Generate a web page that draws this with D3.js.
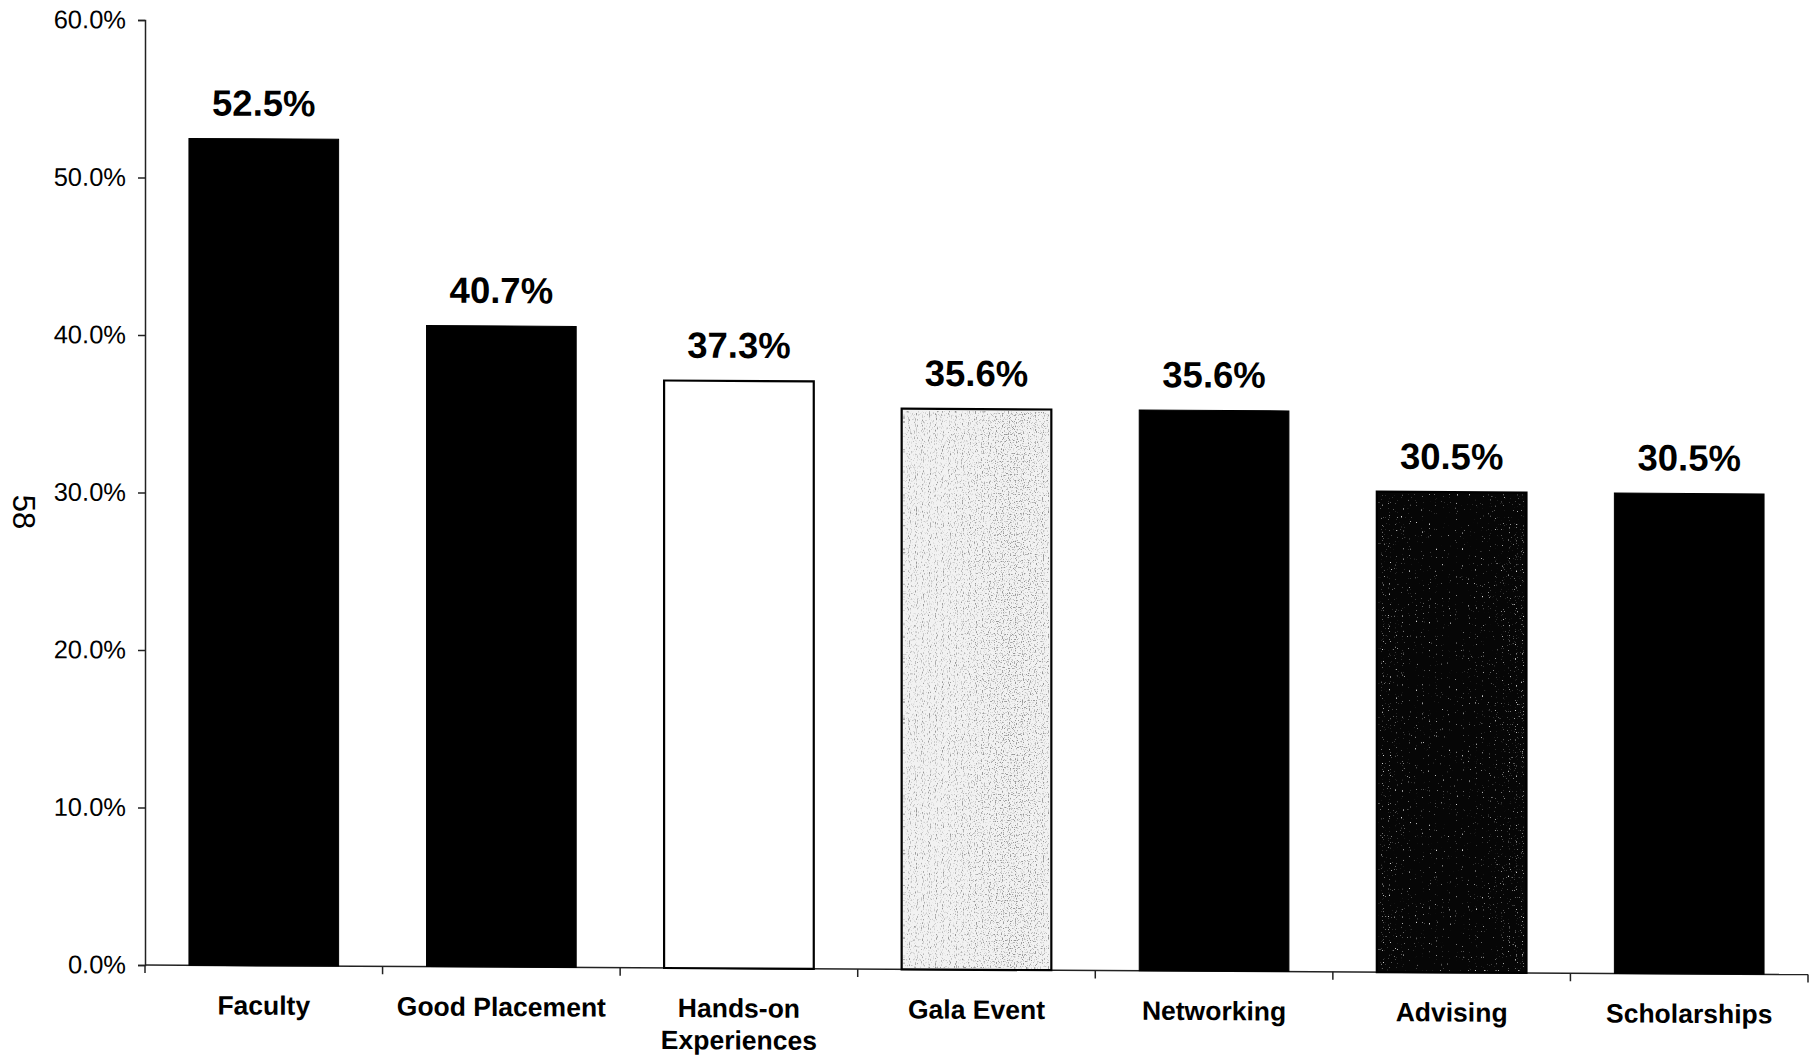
<!DOCTYPE html>
<html>
<head>
<meta charset="utf-8">
<script src="https://cdn.jsdelivr.net/npm/d3@7"></script>
<style>
  html, body { margin: 0; padding: 0; background: #fff; }
  svg { display: block; }
  text { font-family: "Liberation Sans", Arial, Helvetica, sans-serif; fill: #000; }
</style>
</head>
<body>
<script>
// Reasons cited, share of respondents (%)
const categories = ["Faculty", "Good Placement", "Hands-on Experiences", "Gala Event", "Networking", "Advising", "Scholarships"];
const categoryLines = [["Faculty"], ["Good Placement"], ["Hands-on", "Experiences"], ["Gala Event"], ["Networking"], ["Advising"], ["Scholarships"]];
const values = [52.5, 40.7, 37.3, 35.6, 35.6, 30.5, 30.5];
const yTicks = [0, 10, 20, 30, 40, 50, 60];
const pageNumber = "58";

// bar appearance, one entry per category
const barStyles = ["solid", "solid", "open", "light", "solid", "dark", "solid"];

const W = 1811, H = 1057;
const plotLeft = 145, plotRight = 1808, plotTop = 20, plotBottom = 965;

const svg = d3.select("body").append("svg").attr("width", W).attr("height", H);

// speckle textures for the shaded bars
const defs = svg.append("defs");
const light = defs.append("filter").attr("id", "speckLight")
  .attr("x", 0).attr("y", 0).attr("width", 1).attr("height", 1);
light.append("feTurbulence").attr("type", "fractalNoise").attr("baseFrequency", 0.85)
  .attr("numOctaves", 1).attr("seed", 3).attr("result", "n");
light.append("feColorMatrix").attr("in", "n").attr("type", "matrix")
  .attr("values", "0 0 0 0 0.3  0 0 0 0 0.3  0 0 0 0 0.3  6 0 0 0 -3.2");
const dark = defs.append("filter").attr("id", "speckDark")
  .attr("x", 0).attr("y", 0).attr("width", 1).attr("height", 1);
dark.append("feTurbulence").attr("type", "fractalNoise").attr("baseFrequency", 0.85)
  .attr("numOctaves", 1).attr("seed", 7).attr("result", "n");
dark.append("feColorMatrix").attr("in", "n").attr("type", "matrix")
  .attr("values", "0 0 0 0 0.65  0 0 0 0 0.65  0 0 0 0 0.65  8 0 0 0 -5.0");

const x = d3.scaleBand().domain(categories).range([plotLeft, plotRight]).paddingInner(0.37).paddingOuter(0.185);
const y = d3.scaleLinear().domain([0, 60]).range([plotBottom, plotTop]);

// the printed chart sits very slightly sheared on the page
const g = svg.append("g")
  .attr("transform", `translate(${plotLeft},0) skewY(0.33) translate(${-plotLeft},0)`);

// y axis
const yAxis = d3.axisLeft(y).tickValues(yTicks).tickFormat(d => d.toFixed(1) + "%")
  .tickSize(7).tickPadding(12);
const ya = g.append("g").attr("transform", `translate(${plotLeft},0)`).call(yAxis);
ya.select(".domain").attr("stroke", "#222").attr("stroke-width", 1.5);
ya.selectAll(".tick line").attr("stroke", "#222").attr("stroke-width", 1.5);
ya.selectAll(".tick text").attr("font-size", 25.5).attr("font-family", "Liberation Sans, Arial, sans-serif").attr("fill", "#000");

// category axis with boundary ticks
const xa = g.append("g");
xa.append("line").attr("x1", plotLeft).attr("x2", plotRight).attr("y1", plotBottom).attr("y2", plotBottom)
  .attr("stroke", "#222").attr("stroke-width", 1.5);
const step = x.step();
const bounds = d3.range(categories.length + 1).map(i => plotLeft + i * step);
xa.selectAll("line.b").data(bounds).join("line").attr("class", "b")
  .attr("x1", d => d).attr("x2", d => d).attr("y1", plotBottom).attr("y2", plotBottom + 8)
  .attr("stroke", "#222").attr("stroke-width", 1.5);

// bars
const bars = g.append("g");
categories.forEach((c, i) => {
  const bx = x(c), bw = x.bandwidth(), by = y(values[i]), bh = y(0) - y(values[i]);
  const s = barStyles[i];
  const fill = s === "open" ? "#fff" : s === "light" ? "#f2f2f2" : s === "dark" ? "#060606" : "#000";
  bars.append("rect").attr("x", bx).attr("y", by).attr("width", bw).attr("height", bh)
    .attr("fill", fill).attr("stroke", "#000").attr("stroke-width", s === "solid" ? 1 : 2.2);
  if (s === "light" || s === "dark") {
    bars.append("rect").attr("x", bx + 3).attr("y", by + 3).attr("width", bw - 6).attr("height", bh - 5)
      .attr("fill", "#000").attr("filter", `url(#${s === "light" ? "speckLight" : "speckDark"})`);
  }
  // value label
  g.append("text").attr("x", bx + bw / 2).attr("y", by - 23)
    .attr("text-anchor", "middle").attr("font-size", 36.5).attr("font-weight", "bold")
    .text(values[i].toFixed(1) + "%");
  // category label
  const t = g.append("text").attr("x", bx + bw / 2).attr("y", plotBottom + 49)
    .attr("text-anchor", "middle").attr("font-size", 26.5).attr("font-weight", "bold");
  categoryLines[i].forEach((line, j) => {
    t.append("tspan").attr("x", bx + bw / 2).attr("dy", j === 0 ? 0 : 32).text(line);
  });
});

// page number in the margin
svg.append("text").attr("transform", "translate(13,512) rotate(90)")
  .attr("text-anchor", "middle").attr("font-size", 31).text(pageNumber);
</script>
</body>
</html>
